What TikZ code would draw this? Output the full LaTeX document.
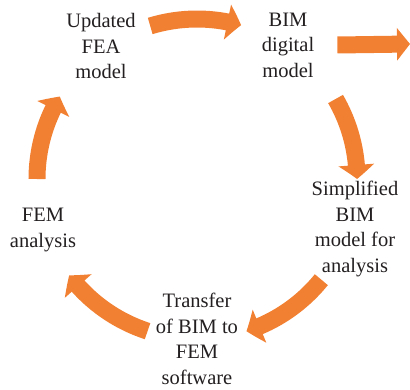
\documentclass[tikz,border=0pt]{standalone}
\usepackage{fontspec}
\setmainfont{Liberation Serif}
\usetikzlibrary{arrows.meta,bending}
\definecolor{cycorange}{RGB}{242,128,50}
\definecolor{txtgray}{RGB}{35,31,32}
\begin{document}
\begin{tikzpicture}[x=1pt,y=1pt,
        lbl/.style={align=center,inner sep=0pt,text=txtgray,font=\fontsize{20.5}{25.5}\selectfont},
        cyc/.style={cycorange,line width=17pt,-{Triangle[length=14pt,width=35pt,bend]}}]
        \useasboundingbox (-197,-210) rectangle (213,179);
        \coordinate (c) at (0,0);
        \coordinate (out) at (213,135);

        % Stages of the cycle
        \node[lbl] (upd) at (-96,133) {Updated\\FEA\\model};
        \node[lbl] (bim) at (91,134) {BIM\\digital\\model};
        \node[lbl] (simp) at (158,-50) {Simplified\\BIM\\model for\\analysis};
        \node[lbl] (trans) at (0,-160) {Transfer\\of BIM to\\FEM\\software};
        \node[lbl] (fem) at (-154,-51) {FEM\\analysis};

        % Curved arrows round the cycle
        \foreach \s/\e in {107/74, 30/0, -39/-72, -108/-143, 180/149}
            \draw[cyc] ([shift={(\s:160pt)}]c) arc[start angle=\s, end angle=\e, radius=160pt];

        % Arrow out of the cycle
        \draw[cyc,-{Triangle[length=13pt,width=32pt]}] ([xshift=23pt]bim.east) -- (out);
    \end{tikzpicture}
\end{document}
